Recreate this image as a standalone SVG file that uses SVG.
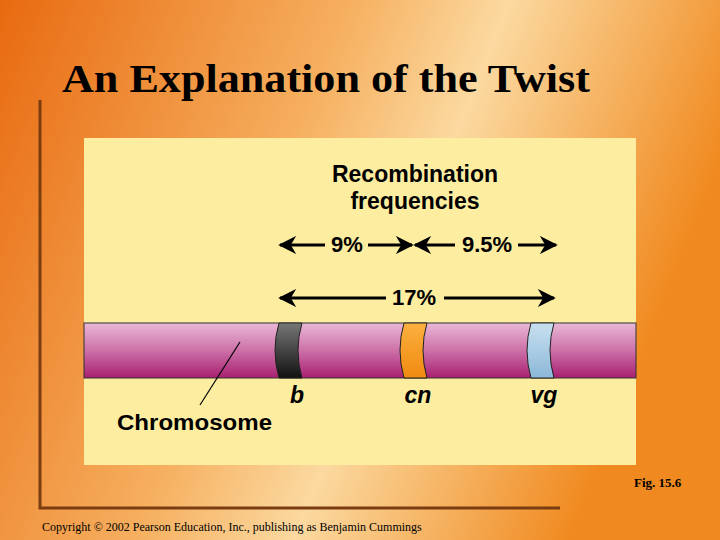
<svg xmlns="http://www.w3.org/2000/svg" width="720" height="540" viewBox="0 0 720 540">
<defs>
<linearGradient id="bg" x1="0" y1="0" x2="1" y2="0.3">
<stop offset="0" stop-color="#e86a10"/><stop offset="0.45" stop-color="#f6b060"/><stop offset="0.65" stop-color="#fbd9a0"/><stop offset="1" stop-color="#f08a20"/>
</linearGradient>
<linearGradient id="chr" x1="0" y1="0" x2="0" y2="1">
<stop offset="0" stop-color="#eab8d6"/><stop offset="0.5" stop-color="#cc70a8"/><stop offset="1" stop-color="#a82070"/>
</linearGradient>
<linearGradient id="blk" x1="0" y1="0" x2="0" y2="1"><stop offset="0" stop-color="#777"/><stop offset="1" stop-color="#111"/></linearGradient>
<linearGradient id="org" x1="0" y1="0" x2="0" y2="1"><stop offset="0" stop-color="#fbb040"/><stop offset="1" stop-color="#f08a10"/></linearGradient>
<linearGradient id="blu" x1="0" y1="0" x2="0" y2="1"><stop offset="0" stop-color="#c8e0f0"/><stop offset="1" stop-color="#8cb8d8"/></linearGradient>
<marker id="ah" viewBox="0 0 10 10" refX="9" refY="5" markerWidth="6" markerHeight="6" orient="auto-start-reverse"><path d="M0,0 L10,5 L0,10 L3,5 z" fill="#000"/></marker>
<style>
.s{font-family:"Liberation Sans",Arial,sans-serif;font-weight:bold;fill:#000}
.ar{stroke:#000;stroke-width:3;fill:none}
.band{stroke:#222;stroke-width:1}
</style>
</defs>
<rect width="720" height="540" fill="url(#bg)"/>
<path d="M40,100 V508 H560" fill="none" stroke="#7a3c10" stroke-width="3"/>
<text x="62" y="92" font-family="Liberation Serif,serif" font-weight="bold" font-size="40" textLength="528" lengthAdjust="spacingAndGlyphs">An Explanation of the Twist</text>
<rect x="84" y="138" width="552" height="327" fill="#fdeda0"/>
<g id="title"><text class="s" x="415" y="182" font-size="23" text-anchor="middle">Recombination</text><text class="s" x="415" y="209" font-size="23" text-anchor="middle">frequencies</text></g>
<g id="chromosome">
<rect x="84" y="323" width="552" height="55" fill="url(#chr)" stroke="#333" stroke-width="1"/>
<path class="band" d="M279,323 H302 Q294,350 302,378 H279 Q271,350 279,323z" fill="url(#blk)"/>
<path class="band" d="M404,323 H427 Q419,350 427,378 H404 Q396,350 404,323z" fill="url(#org)"/>
<path class="band" d="M531,323 H554 Q546,350 554,378 H531 Q523,350 531,323z" fill="url(#blu)"/>
</g>
<g id="connectors">
<line class="ar" x1="325" y1="245" x2="280" y2="245" marker-end="url(#ah)"/>
<line class="ar" x1="368" y1="245" x2="412" y2="245" marker-end="url(#ah)"/>
<line class="ar" x1="455" y1="245" x2="415" y2="245" marker-end="url(#ah)"/>
<line class="ar" x1="518" y1="245" x2="556" y2="245" marker-end="url(#ah)"/>
<line class="ar" x1="386" y1="298" x2="280" y2="298" marker-end="url(#ah)"/>
<line class="ar" x1="444" y1="298" x2="554" y2="298" marker-end="url(#ah)"/>
<line x1="200" y1="405" x2="240" y2="342" stroke="#000" stroke-width="1.2"/>
</g>
<text class="s" x="347" y="252" font-size="22" text-anchor="middle">9%</text>
<text class="s" x="487" y="252" font-size="22" text-anchor="middle">9.5%</text>
<text class="s" x="414" y="305" font-size="22" text-anchor="middle">17%</text>
<g id="labels">
<text class="s" x="297" y="403" font-size="23" text-anchor="middle" font-style="italic">b</text>
<text class="s" x="418" y="403" font-size="23" text-anchor="middle" font-style="italic">cn</text>
<text class="s" x="544" y="403" font-size="23" text-anchor="middle" font-style="italic">vg</text>
</g>
<text class="s" x="117" y="430" font-size="22" textLength="155" lengthAdjust="spacingAndGlyphs">Chromosome</text>
<text x="634" y="487" font-family="Liberation Serif,serif" font-weight="bold" font-size="13">Fig. 15.6</text>
<text x="42" y="531" font-family="Liberation Serif,serif" font-size="12">Copyright © 2002 Pearson Education, Inc., publishing as Benjamin Cummings</text>
</svg>
